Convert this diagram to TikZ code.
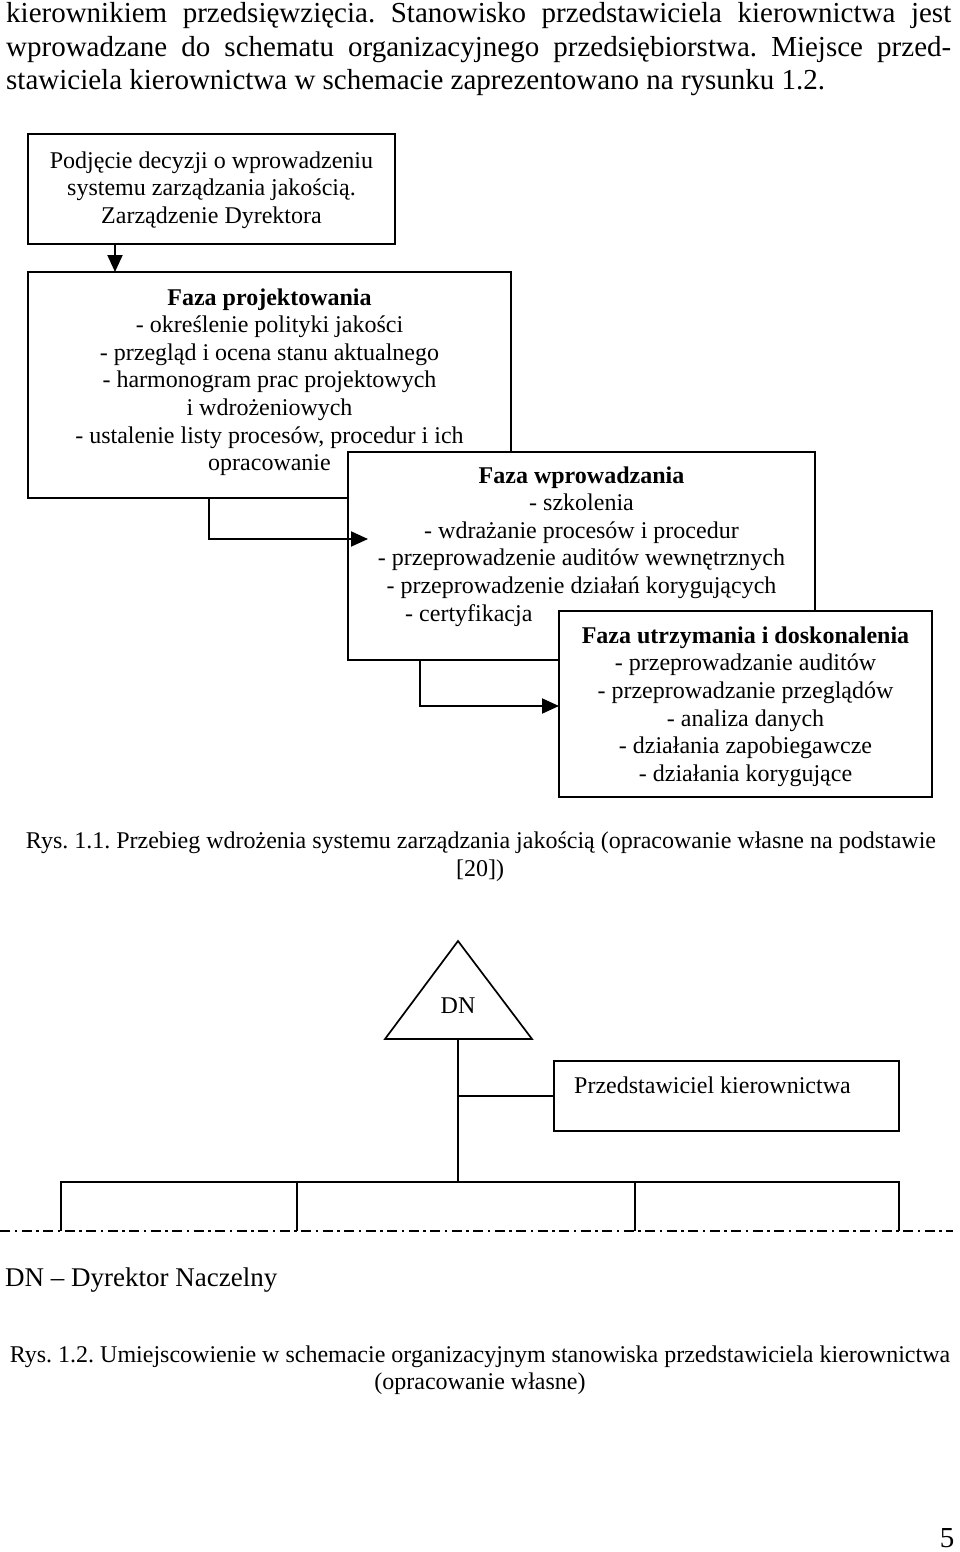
\documentclass[tikz,border=0pt]{standalone}
\usepackage{fontspec}
\setmainfont{Liberation Serif}
\usetikzlibrary{arrows.meta,calc}
\frenchspacing
\newcommand\dgfont{\fontsize{24}{27.6}\selectfont}
\newcommand\bodyfont{\fontsize{29}{33.7}\selectfont}
\tikzset{
  box/.style={draw, line width=2pt, fill=white, inner sep=0pt, outer sep=0pt, anchor=north west},
  dg/.style={font=\dgfont, inner sep=0pt, anchor=base},
  bt/.style={font=\bodyfont, inner sep=0pt, anchor=base west},
  arr/.style={line width=2pt, -{Triangle[length=17pt,width=15pt]}},
  ln/.style={line width=1.7pt},
  dashdot/.style={line width=2pt, dash pattern=on 10pt off 4.5pt on 2.5pt off 4.5pt},
}
\begin{document}
\begin{tikzpicture}[x=1pt,y=-1pt]
\useasboundingbox (0,0) rectangle (960,1552);

% body text
\node[bt] (t1) at (6,22.5) {\makebox[945pt][s]{kierownikiem przedsięwzięcia. Stanowisko przedstawiciela kierownictwa jest}};
\node[bt] (t2) at (6,56.2) {\makebox[945pt][s]{wprowadzane do schematu organizacyjnego przedsiębiorstwa. Miejsce przed-}};
\node[bt] (t3) at (6,89.9) {stawiciela kierownictwa w schemacie zaprezentowano na rysunku 1.2.};

% box 1
\node[box, minimum width=367pt, minimum height=110pt] (b1) at (28,134) {};
\foreach \t [count=\i from 0] in {{Podjęcie decyzji o wprowadzeniu},{systemu zarządzania jakością.},{Zarządzenie Dyrektora}}
  \node[dg] (a\i) at (211.5,{168+27.5*\i}) {\t};

% box 2
\node[box, minimum width=483pt, minimum height=226pt] (b2) at (28,272) {};
\foreach \t [count=\i from 0] in {{\textbf{Faza projektowania}},{- określenie polityki jakości},{- przegląd i ocena stanu aktualnego},{- harmonogram prac projektowych},{i wdrożeniowych},{- ustalenie listy procesów, procedur i ich},{opracowanie}}
  \node[dg] (p\i) at (269.5,{305+27.6*\i}) {\t};

\draw[arr] (b1.south west -| 115,0) -- (b2.north west -| 115,0);

% box 3
\node[box, minimum width=467pt, minimum height=208pt] (b3) at (348,452) {};
\foreach \t [count=\i from 0] in {{\textbf{Faza wprowadzania}},{- szkolenia},{- wdrażanie procesów i procedur},{- przeprowadzenie auditów wewnętrznych},{- przeprowadzenie działań korygujących}}
  \node[dg] (w\i) at (581.5,{483+27.6*\i}) {\t};
\node[dg, anchor=base west] (w5) at (405,621) {- certyfikacja};

\coordinate (y23) at (0,539);
\draw[arr] ([xshift=181pt]b2.south west) |- ([xshift=20pt]b3.west |- y23);

% box 4
\node[box, minimum width=373pt, minimum height=186pt] (b4) at (559,611) {};
\foreach \t [count=\i from 0] in {{\textbf{Faza utrzymania i doskonalenia}},{- przeprowadzanie auditów},{- przeprowadzanie przeglądów},{- analiza danych},{- działania zapobiegawcze},{- działania korygujące}}
  \node[dg] (u\i) at (745.5,{643+27.7*\i}) {\t};

\coordinate (y34) at (0,706);
\draw[arr] ([xshift=72pt]b3.south west) |- (b4.west |- y34);

% caption 1
\node[dg] (c1a) at (481,848) {Rys. 1.1. Przebieg wdrożenia systemu zarządzania jakością (opracowanie własne na podstawie};
\node[dg] (c1b) at (480,876) {[20])};

% lower diagram
\coordinate (tA) at (458,941);
\coordinate (tL) at (385,1039);
\coordinate (tR) at (532,1039);
\coordinate (tb) at (458,1039);
\draw[ln, line join=miter] (tA) -- (tL) -- (tR) -- cycle;
\node[dg] (dn) at (458,1013) {DN};

\node[box, line width=1.7pt, minimum width=345pt, minimum height=70pt] (pk) at (554,1061) {};
\node[dg, anchor=base west] (pkt) at (574,1093) {Przedstawiciel kierownictwa};

\coordinate (bus) at (458,1182);
\draw[ln] (tb) -- (bus);
\draw[ln] (pk.west) -- (pk.west -| tb);

\coordinate (d1) at (61,1231);
\coordinate (d2) at (297,1231);
\coordinate (d3) at (635,1231);
\coordinate (d4) at (899,1231);
\draw[ln] (d1) |- (bus -| d4) -- (d4);
\draw[ln] (d2) -- (d2 |- bus);
\draw[ln] (d3) -- (d3 |- bus);

\coordinate (dl) at (0,1231);
\coordinate (dr) at (953,1231);
\draw[dashdot] (dl) -- (dr);

\node[bt, font=\fontsize{27}{31}\selectfont] (leg) at (5,1286) {DN – Dyrektor Naczelny};

\node[dg] (c2a) at (480,1362) {Rys. 1.2. Umiejscowienie w schemacie organizacyjnym stanowiska przedstawiciela kierownictwa};
\node[dg] (c2b) at (480,1389) {(opracowanie własne)};

\node[font=\bodyfont, inner sep=0pt, anchor=base] (pg) at (947,1547) {5};
\end{tikzpicture}
\end{document}
